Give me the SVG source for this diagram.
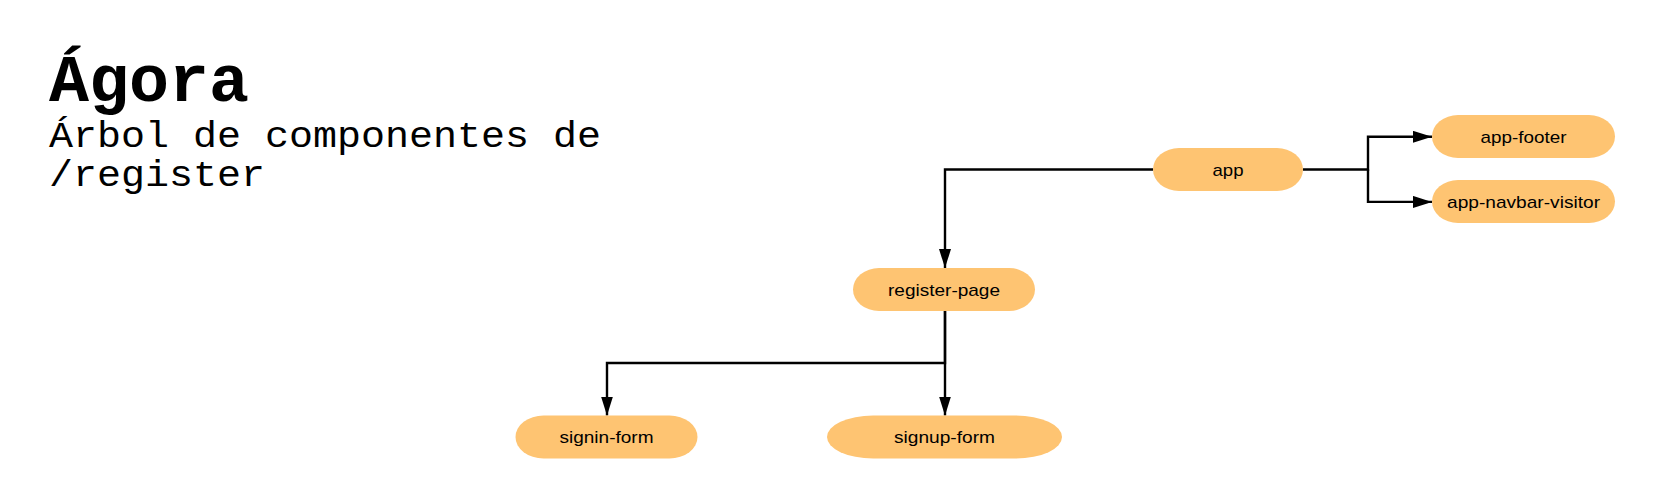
<svg xmlns="http://www.w3.org/2000/svg" width="1659" height="501" viewBox="0 0 1659 501">
<style>
.node{fill:#fec472;}
.lbl{font-family:"Liberation Sans",Arial,sans-serif;font-size:17px;fill:#000;text-anchor:middle;}
.conn{fill:none;stroke:#000;stroke-width:2.4;}
.title{font-family:"Liberation Mono","DejaVu Sans Mono",monospace;fill:#000;}
</style>
<defs>
<marker id="arr" markerUnits="userSpaceOnUse" markerWidth="20" markerHeight="13" refX="19" refY="6" orient="auto">
<path d="M0,0 L19,6 L0,12 z" fill="#000"/>
</marker>
</defs>
<g id="title">
<text class="title" x="49" y="101" font-size="66" font-weight="bold" textLength="200" lengthAdjust="spacingAndGlyphs">Ágora</text>
<text class="title" x="49" y="147" font-size="37" textLength="552" lengthAdjust="spacingAndGlyphs">Árbol de componentes de</text>
<text class="title" x="49" y="186" font-size="37" textLength="216" lengthAdjust="spacingAndGlyphs">/register</text>
</g>
<g id="connectors">
<path class="conn" d="M1153,169.5 H945 V268" marker-end="url(#arr)"/>
<path class="conn" d="M1303,169.5 H1368 V136.8 H1432" marker-end="url(#arr)"/>
<path class="conn" d="M1368,169.5 V201.9 H1432" marker-end="url(#arr)"/>
<path class="conn" d="M945,311 V363 H607 V415.5" marker-end="url(#arr)"/>
<path class="conn" d="M945,311 V415.5" marker-end="url(#arr)"/>
</g>
<g id="node-app">
<rect class="node" x="1153" y="148" width="150" height="43" rx="26" ry="21.5"/>
<text class="lbl" x="1228" y="175.5" textLength="31" lengthAdjust="spacingAndGlyphs">app</text>
</g>
<g id="node-app-footer">
<rect class="node" x="1432" y="115" width="183" height="43" rx="26" ry="21.5"/>
<text class="lbl" x="1523.5" y="142.5" textLength="86" lengthAdjust="spacingAndGlyphs">app-footer</text>
</g>
<g id="node-app-navbar-visitor">
<rect class="node" x="1432" y="180" width="183" height="43" rx="26" ry="21.5"/>
<text class="lbl" x="1523.5" y="207.5" textLength="153" lengthAdjust="spacingAndGlyphs">app-navbar-visitor</text>
</g>
<g id="node-register-page">
<rect class="node" x="853" y="268" width="182" height="43" rx="26" ry="21.5"/>
<text class="lbl" x="944" y="295.5" textLength="112" lengthAdjust="spacingAndGlyphs">register-page</text>
</g>
<g id="node-signin-form">
<rect class="node" x="515.5" y="415.5" width="182" height="43" rx="28" ry="21.5"/>
<text class="lbl" x="606.5" y="443" textLength="94" lengthAdjust="spacingAndGlyphs">signin-form</text>
</g>
<g id="node-signup-form">
<rect class="node" x="827" y="415.5" width="235" height="43" rx="46" ry="21.5"/>
<text class="lbl" x="944.5" y="443" textLength="101" lengthAdjust="spacingAndGlyphs">signup-form</text>
</g>
</svg>
